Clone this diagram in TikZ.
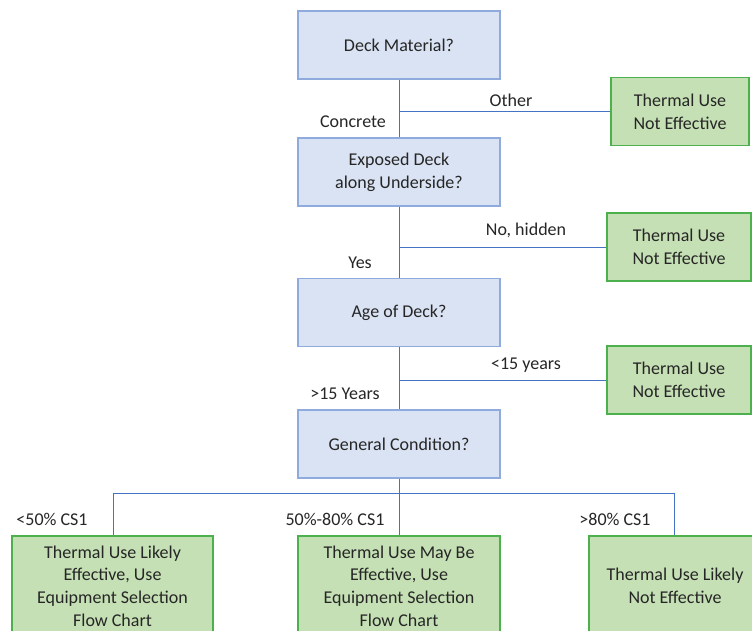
\documentclass[tikz,border=0pt]{standalone}
\usepackage{fontspec}
\setmainfont{Carlito}
\usetikzlibrary{positioning}

\definecolor{qfill}{HTML}{DAE3F3}
\definecolor{qline}{HTML}{8FAADC}
\definecolor{rfill}{HTML}{C5E0B4}
\definecolor{rline}{HTML}{4CB04C}
\definecolor{wire}{HTML}{4472C4}
\definecolor{ink}{HTML}{262626}

\tikzset{
  qbox/.style={draw=qline, fill=qfill, line width=1.3pt, minimum width=202pt, minimum height=68pt, inner sep=0pt, align=center, text=ink},
  rbox/.style={draw=rline, fill=rfill, line width=1.3pt, minimum height=68pt, inner sep=0pt, align=center, text=ink},
  lbl/.style={text=ink, inner sep=0pt}
}

\begin{document}
\begin{tikzpicture}[x=1pt,y=-1pt, font=\fontsize{18}{22.7}\selectfont]
\clip (0,0) rectangle (752,630);
\fill[white] (0,0) rectangle (752,630);

\path
(399,45)    node[qbox] (q1) {Deck Material?}
(399,172)   node[qbox] (q2) {Exposed Deck\\ along Underside?}
(399,312.5) node[qbox] (q3) {Age of Deck?}
(399,444)   node[qbox] (q4) {General Condition?}

(680,111.5) node[rbox, minimum width=138pt] (r1) {Thermal Use\\ Not Effective}
(679,247)   node[rbox, minimum width=144pt] (r2) {Thermal Use\\ Not Effective}
(679,380)   node[rbox, minimum width=144pt] (r3) {Thermal Use\\ Not Effective}

(112.5,586) node[rbox, minimum width=201pt, minimum height=100pt] (o1) {Thermal Use Likely\\ Effective, Use\\ Equipment Selection\\ Flow Chart}
(399,586)   node[rbox, minimum width=202pt, minimum height=100pt] (o2) {Thermal Use May Be\\ Effective, Use\\ Equipment Selection\\ Flow Chart}
(675,586)   node[rbox, minimum width=172pt, minimum height=100pt] (o3) {Thermal Use Likely\\ Not Effective};

% branch labels
\path
(511,100) node[lbl] (lOther) {Other}
(353,122) node[lbl] (lConcrete) {Concrete}
(526,230) node[lbl] (lHidden) {No, hidden}
(360,263) node[lbl] (lYes) {Yes}
(526,365) node[lbl] (lYoung) {<15 years}
(345,394) node[lbl] (lOld) {>15 Years}
(52,519)  node[lbl] (lLow) {<50\% CS1}
(335,519) node[lbl] (lMid) {50\%-80\% CS1}
(615,519) node[lbl] (lHigh) {>80\% CS1};

\coordinate (jL) at (113,493);
\coordinate (jR) at (674,493);

\draw[wire, line width=1pt] (q1.south)--(q2.north);
\draw[wire, line width=1pt] (q2.south)--(q3.north);
\draw[wire, line width=1pt] (q3.south)--(q4.north);
\draw[wire, line width=1pt] (q4.south)--(o2.north);

\draw[wire, line width=1pt] (q1.south |- r1.west)--(r1.west);
\draw[wire, line width=1pt] (q2.south |- r2.west)--(r2.west);
\draw[wire, line width=1pt] (q3.south |- r3.west)--(r3.west);

\draw[wire, line width=1pt] (jL)--(jR);
\draw[wire, line width=1pt] (jL)--(jL |- o1.north);
\draw[wire, line width=1pt] (jR)--(jR |- o3.north);
\end{tikzpicture}
\end{document}
